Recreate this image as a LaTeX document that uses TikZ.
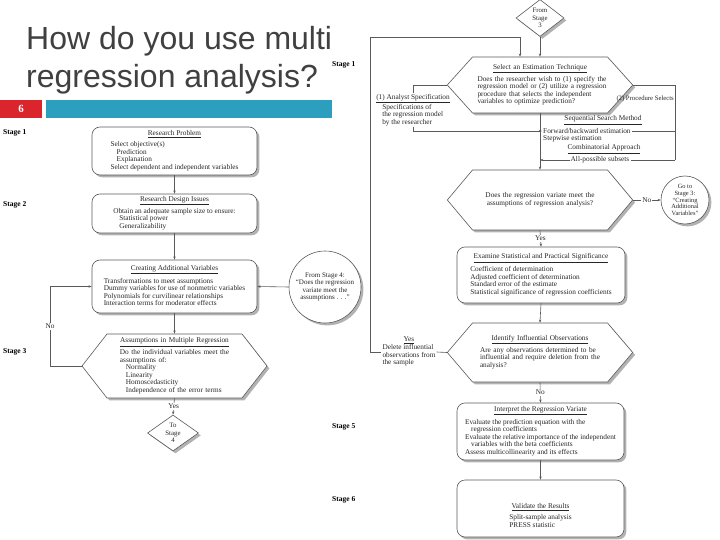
\documentclass[tikz,border=0pt]{standalone}
\usepackage{fontspec}
\setmainfont{Liberation Serif}
\newfontfamily\titlefont{Liberation Sans}
\usetikzlibrary{shapes.geometric,shapes.symbols,shadows,arrows.meta,calc}

\definecolor{slidered}{RGB}{218,37,45}
\definecolor{slideteal}{RGB}{44,158,190}
\definecolor{titlegray}{RGB}{64,64,64}
\definecolor{wiregray}{RGB}{90,90,90}

\newcommand\boxhead[1]{\underline{#1}}
\newcommand\itemlines[1]{\begin{tabular}{@{}l@{}}#1\end{tabular}}
\newcommand\ind{\hspace*{6pt}}

\tikzset{
  chart/.style={font=\fontsize{7.3}{7.5}\selectfont, text=black!85},
  boxshadow/.style={drop shadow={shadow xshift=2.4pt, shadow yshift=-2.4pt, fill=black!55, opacity=.55}},
  procbox/.style={chart, draw=wiregray, line width=.6pt, rounded corners=8pt, fill=white,
    boxshadow, align=center, inner sep=2pt},
  decision/.style={chart, shape=signal, signal to=west and east, draw=wiregray, line width=.6pt,
    fill=white, boxshadow, align=center, text width=125pt, inner xsep=5pt, inner ysep=2pt},
  notecirc/.style={chart, circle, draw=wiregray, line width=.6pt, fill=white, boxshadow,
    align=center, inner sep=0pt},
  jumpdia/.style={chart, diamond, draw=wiregray, line width=.6pt, fill=white, boxshadow,
    align=center, inner sep=0pt, font=\fontsize{6.8}{7.4}\selectfont},
  stagelbl/.style={font=\bfseries\fontsize{7.5}{8}\selectfont, anchor=west, inner sep=0pt},
  wire/.style={draw=wiregray, line width=.6pt},
  flow/.style={wire, -{Stealth[length=3.2pt,width=2.4pt]}},
  onwire/.style={chart, fill=white, inner sep=1pt},
}

\begin{document}
\begin{tikzpicture}[x=1pt,y=-1pt]
	\useasboundingbox (0,0) rectangle (720,540);

	% slide heading
	\node[anchor=north west, inner sep=0pt, align=left, text=titlegray,
	  font=\titlefont\fontsize{32}{38}\selectfont] (title) at (26,26)
	  {How do you use multi\\regression analysis?};
	\node[anchor=north west, fill=slidered, minimum width=42pt, minimum height=18pt, inner sep=0pt,
	  text=white, font=\bfseries\fontsize{11}{12}\selectfont] (slidenum) at (0,100) {6};
	\fill[slideteal] (46,100) rectangle (332,118);

	% stages 1-3
	\node[stagelbl] (lstage1) at (3,133) {Stage 1};
	\node[stagelbl] (lstage2) at (3,205) {Stage 2};
	\node[stagelbl] (lstage3) at (3,352) {Stage 3};

	\node[procbox, minimum width=165pt, minimum height=48pt] (problem) at (174.5,151)
	  {\boxhead{Research Problem}\\[3pt]
	   \itemlines{Select objective(s)\\ \ind Prediction\\ \ind Explanation\\Select dependent and independent variables}};
	\node[procbox, minimum width=165pt, minimum height=39pt] (design) at (174.5,213.5)
	  {\boxhead{Research Design Issues}\\[2pt]
	   \itemlines{Obtain an adequate sample size to ensure:\\ \ind Statistical power\\ \ind Generalizability}};
	\node[procbox, minimum width=165pt, minimum height=53pt] (newvars) at (174.5,286.5)
	  {\boxhead{Creating Additional Variables}\\[3pt]
	   \itemlines{Transformations to meet assumptions\\Dummy variables for use of nonmetric variables\\Polynomials for curvilinear relationships\\Interaction terms for moderator effects}};
	\node[notecirc, minimum size=72pt, font=\fontsize{7}{7.4}\selectfont] (fromfour) at (325,287)
	  {From Stage 4:\\“Does the regression\\variate meet the\\assumptions . . .”};
	\node[decision, minimum height=64pt, signal pointer angle=104] (assume) at (174.5,366)
	  {\boxhead{Assumptions in Multiple Regression}\\[2pt]
	   \itemlines{Do the individual variables meet the\\assumptions of:\\ \ind Normality\\ \ind Linearity\\ \ind Homoscedasticity\\ \ind Independence of the error terms}};
	\node[jumpdia, minimum width=51pt, minimum height=36pt] (tofour) at (173,433) {To\\Stage\\4};
	\coordinate (nocol) at (50,0);

	\draw[flow] (problem.south) -- (design.north);
	\draw[flow] (design.south) -- (newvars.north);
	\draw[flow] (fromfour.west) -- (newvars.east);
	\draw[flow] (newvars.south) -- (assume.north);
	\draw[flow] (assume.west) -- (assume.west -| nocol) |- node[onwire,pos=.25]{No} (newvars.west);
	\draw[flow] (assume.south) -- node[onwire]{Yes} (tofour.north);

	% stages 4-6
	\node[stagelbl] (rstage1) at (332,65) {Stage 1};
	\node[stagelbl] (rstage5) at (332,427) {Stage 5};
	\node[stagelbl] (rstage6) at (332,500) {Stage 6};

	\node[jumpdia, minimum width=48pt, minimum height=37pt] (fromthree) at (540,18) {From\\Stage\\3};
	\node[decision, minimum height=56pt, signal pointer angle=96] (technique) at (540,85)
	  {\boxhead{Select an Estimation Technique}\\[2pt]
	   \itemlines{Does the researcher wish to (1) specify the\\regression model or (2) utilize a regression\\procedure that selects the independent\\variables to optimize prediction?}};
	\node[chart, align=left, inner sep=1pt] (analyst) at (413,110)
	  {\underline{(1) Analyst Specification}\\ \ind Specifications of\\ \ind the regression model\\ \ind by the researcher};
	\node[chart, anchor=east, inner sep=1pt, font=\fontsize{6.7}{7}\selectfont] (procsel) at (675,99) {(2) Procedure Selects};
	\node[chart, inner sep=1pt] (seqhead) at (603,120) {\underline{Sequential Search Method}};
	\node[chart, anchor=west, fill=white, inner sep=1pt] (fwdback) at (542,131) {Forward/backward estimation};
	\node[chart, anchor=west, inner sep=1pt] (stepwise) at (542,139) {Stepwise estimation};
	\node[chart, inner sep=1pt] (combi) at (604,149) {\underline{Combinatorial Approach}};
	\node[onwire] (allsub) at (600,160) {All-possible subsets};
	\coordinate (rcol) at (675,160);

	\draw[flow] (fromthree.south) -- (technique.north);
	\draw[wire] (technique.west) -| (analyst.north);
	\draw[flow] (analyst.south) |- (fwdback.west);
	\draw[wire] (technique.east) -| (rcol);
	\draw[wire] (rcol |- fwdback.east) -- (fwdback.east);
	\draw[wire] (rcol) -- (allsub.east);
	\draw[flow] (allsub.west) -- (allsub.west -| technique.south);

	\node[decision, minimum height=60pt, signal pointer angle=100] (meets) at (540,200)
	  {Does the regression variate meet the\\assumptions of regression analysis?};
	\node[notecirc, minimum size=48pt, font=\fontsize{6.4}{6.9}\selectfont] (gothree) at (685,200)
	  {Go to\\Stage 3:\\“Creating\\Additional\\Variables”};
	\node[procbox, minimum width=168pt, minimum height=56pt] (signif) at (541,275)
	  {\boxhead{Examine Statistical and Practical Significance}\\[3pt]
	   \itemlines{Coefficient of determination\\Adjusted coefficient of determination\\Standard error of the estimate\\Statistical significance of regression coefficients}};
	\node[decision, minimum height=59pt, signal pointer angle=99] (influence) at (540,352.5)
	  {\boxhead{Identify Influential Observations}\\[2pt]
	   \itemlines{Are any observations determined to be\\influential and require deletion from the\\analysis?}};
	\node[chart, align=center, inner sep=1pt] (delete) at (409,352)
	  {\underline{Yes}\\\itemlines{Delete influential\\observations from\\the sample}};
	\coordinate (loopcorner) at (370,37);
	\node[procbox, minimum width=167pt, minimum height=57pt] (interpret) at (540.5,431.5)
	  {\boxhead{Interpret the Regression Variate}\\[3pt]
	   \itemlines{Evaluate the prediction equation with the\\ \ind regression coefficients\\Evaluate the relative importance of the independent\\ \ind variables with the beta coefficients\\Assess multicollinearity and its effects}};
	\node[procbox, minimum width=167pt, minimum height=57pt] (validate) at (540.5,508.5)
	  {\rule{0pt}{21pt}\boxhead{Validate the Results}\\[3pt]
	   \itemlines{Split-sample analysis\\PRESS statistic}};

	\draw[flow] (technique.south) -- (meets.north);
	\draw[flow] (meets.east) -- node[onwire]{No} (gothree.west);
	\draw[flow] (meets.south) -- node[onwire]{Yes} (signif.north);
	\draw[flow] (signif.south) -- (influence.north);
	\draw[wire] (influence.west) -- (delete.east);
	\draw[flow] (delete.west) -| (loopcorner) -| ($(technique.north)+(-20,0)$);
	\draw[flow] (influence.south) -- node[onwire]{No} (interpret.north);
	\draw[flow] (interpret.south) -- (validate.north);
\end{tikzpicture}
\end{document}
